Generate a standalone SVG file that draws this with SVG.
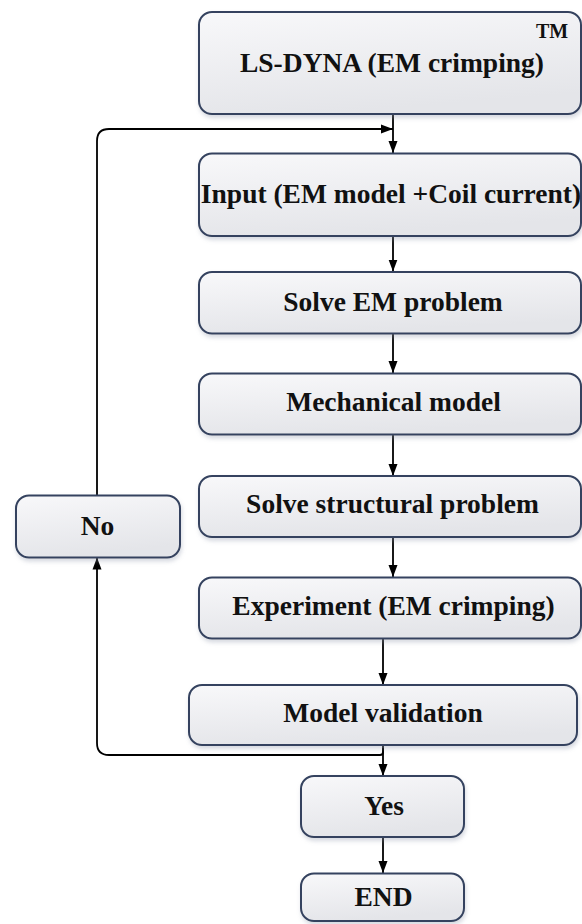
<svg xmlns="http://www.w3.org/2000/svg" width="582" height="924" viewBox="0 0 582 924">
<defs>
<linearGradient id="boxFill" x1="0" y1="0" x2="0.3" y2="1">
<stop offset="0" stop-color="#f8f8fa"/>
<stop offset="1" stop-color="#e4e5e9"/>
</linearGradient>
<filter id="shadow" x="-5%" y="-10%" width="115%" height="130%">
<feDropShadow dx="1" dy="3" stdDeviation="2" flood-color="#8a93a8" flood-opacity="0.35"/>
</filter>
<marker id="arrow" viewBox="0 0 12 10" refX="12" refY="5" markerWidth="12" markerHeight="10" markerUnits="userSpaceOnUse" orient="auto">
<path d="M0,0.5 L12,5 L0,9.5 Z" fill="#000"/>
</marker>
</defs>
<style>
.box { fill: url(#boxFill); stroke: #34435f; stroke-width: 2; filter: url(#shadow); }
text { font-family: 'Liberation Serif', 'Times New Roman', Times, serif; font-weight: 700; fill: #111; text-anchor: middle; }
.lbl { font-size: 27.5px; }
.tm { font-size: 20px; }
.conn { fill: none; stroke: #000; stroke-width: 1.8; }
</style>

<g id="connectors">
<path class="conn" d="M393,114 V153" marker-end="url(#arrow)"/>
<path class="conn" d="M393,236 V271.5" marker-end="url(#arrow)"/>
<path class="conn" d="M393,333.5 V373" marker-end="url(#arrow)"/>
<path class="conn" d="M393,434.5 V476" marker-end="url(#arrow)"/>
<path class="conn" d="M393,537 V577" marker-end="url(#arrow)"/>
<path class="conn" d="M383,638.5 V685" marker-end="url(#arrow)"/>
<path class="conn" d="M383,745 V776" marker-end="url(#arrow)"/>
<path class="conn" d="M383,837 V873" marker-end="url(#arrow)"/>
<path class="conn" d="M383,748 V752 Q383,755 380,755 H109 Q97,755 97,743 V557.5" marker-end="url(#arrow)"/>
<path class="conn" d="M97,495.5 V141 Q97,129 109,129 H393" marker-end="url(#arrow)"/>
</g>

<g id="node-lsdyna">
<rect class="box" x="199" y="12" width="382" height="102" rx="13"/>
<text class="tm" x="552" y="38">TM</text>
<text class="lbl" x="392" y="72">LS-DYNA (EM crimping)</text>
</g>

<g id="node-input">
<rect class="box" x="199" y="153.5" width="382" height="82.5" rx="13"/>
<text class="lbl" x="391" y="203">Input (EM model +Coil current)</text>
</g>

<g id="node-solve-em">
<rect class="box" x="199" y="272" width="382" height="61.5" rx="13"/>
<text class="lbl" x="393" y="311">Solve EM problem</text>
</g>

<g id="node-mechanical">
<rect class="box" x="199" y="373.5" width="382" height="61" rx="13"/>
<text class="lbl" x="393.5" y="410.5">Mechanical model</text>
</g>

<g id="node-solve-structural">
<rect class="box" x="199" y="476" width="382" height="61" rx="13"/>
<text class="lbl" x="392.5" y="513">Solve structural problem</text>
</g>

<g id="node-experiment">
<rect class="box" x="199" y="577.5" width="382" height="61" rx="13"/>
<text class="lbl" x="393.5" y="615">Experiment (EM crimping)</text>
</g>

<g id="node-validation">
<rect class="box" x="189" y="685" width="388" height="60" rx="13"/>
<text class="lbl" x="383" y="722">Model validation</text>
</g>

<g id="node-no">
<rect class="box" x="16" y="495.5" width="164" height="62" rx="13"/>
<text class="lbl" x="97.5" y="534.5">No</text>
</g>

<g id="node-yes">
<rect class="box" x="301" y="776" width="163" height="61" rx="13"/>
<text class="lbl" x="384" y="815">Yes</text>
</g>

<g id="node-end">
<rect class="box" x="301" y="873.5" width="163" height="47.5" rx="13"/>
<text class="lbl" x="383.5" y="906">END</text>
</g>
</svg>
